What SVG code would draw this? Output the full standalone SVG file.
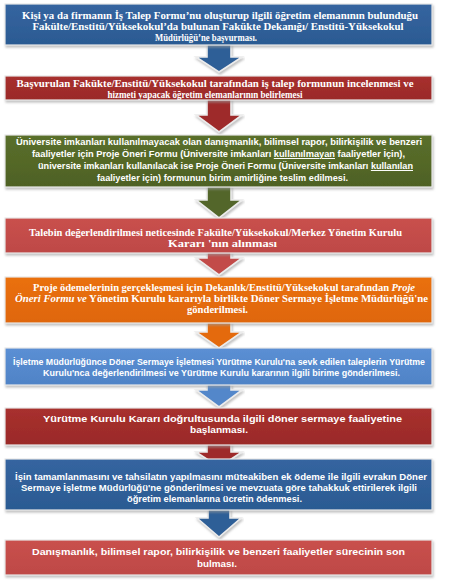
<svg xmlns="http://www.w3.org/2000/svg" width="474" height="582" viewBox="0 0 474 582">
<defs>
<filter id="sh" x="-5%" y="-20%" width="110%" height="150%">
<feDropShadow dx="1" dy="2" stdDeviation="1.2" flood-color="#9a9a9a" flood-opacity="0.6"/>
</filter>
<linearGradient id="gBlue" x1="0" y1="0" x2="0" y2="1"><stop offset="0" stop-color="#3565a0"/><stop offset="1" stop-color="#2b5a92"/></linearGradient>
<linearGradient id="gDred" x1="0" y1="0" x2="0" y2="1"><stop offset="0" stop-color="#a8302e"/><stop offset="1" stop-color="#9a2a28"/></linearGradient>
<linearGradient id="gGreen" x1="0" y1="0" x2="0" y2="1"><stop offset="0" stop-color="#5a6f2b"/><stop offset="1" stop-color="#4e6124"/></linearGradient>
<linearGradient id="gRed" x1="0" y1="0" x2="0" y2="1"><stop offset="0" stop-color="#c9504d"/><stop offset="1" stop-color="#be4946"/></linearGradient>
<linearGradient id="gOrange" x1="0" y1="0" x2="0" y2="1"><stop offset="0" stop-color="#ea7010"/><stop offset="1" stop-color="#df660a"/></linearGradient>
<linearGradient id="gLblue" x1="0" y1="0" x2="0" y2="1"><stop offset="0" stop-color="#5b8fd4"/><stop offset="1" stop-color="#4f83c6"/></linearGradient>
</defs>
<style>
.box{stroke:#e8e8e8;stroke-width:1.2;filter:url(#sh)}
.arr{stroke:#ececec;stroke-width:1.6;stroke-linejoin:miter;filter:url(#sh)}
.tser{font-family:"Liberation Serif","Times New Roman",serif;font-weight:bold;font-size:9.8px;fill:#fff;text-anchor:middle}
.tsan{font-family:"Liberation Sans",Arial,sans-serif;font-weight:bold;font-size:9.8px;fill:#fff;text-anchor:middle}
.u{text-decoration:underline}
.i{font-style:italic}
</style>

<g id="connectors">
<path class="arr" fill="#2f5e97" d="M207,44 H231 V57 H242 L219,72 L196,57 H207 Z"/>
<path class="arr" fill="#9e2c2a" d="M207,99 H231 V115 H242 L219,132 L196,115 H207 Z"/>
<path class="arr" fill="#52662a" d="M207,186 H231 V200 H242 L219,218 L196,200 H207 Z"/>
<path class="arr" fill="#c24b48" d="M207,252 H231 V258 H242 L219,275 L196,258 H207 Z"/>
<path class="arr" fill="#e46a0c" d="M207,322 H231 V332 H242 L219,348 L196,332 H207 Z"/>
<path class="arr" fill="#5287ca" d="M207,384 H231 V390 H242 L219,407 L196,390 H207 Z"/>
<path class="arr" fill="#9e2c2a" d="M207,444 H231 V452 H242 L219,467 L196,452 H207 Z"/>
<path class="arr" fill="#2f5e97" d="M208,509 H230 V518 H241 L219,537 L197,518 H208 Z"/>
</g>

<g id="node1">
<rect class="box" x="5" y="4" width="427" height="41" fill="url(#gBlue)"/>
<text class="tser" x="220" y="19" textLength="396" lengthAdjust="spacingAndGlyphs">Kişi ya da firmanın İş Talep Formu’nu oluşturup ilgili öğretim elemanının bulunduğu</text>
<text class="tser" x="218" y="30" textLength="371" lengthAdjust="spacingAndGlyphs">Fakülte/Enstitü/Yüksekokul’da bulunan Fakükte Dekanığı/ Enstitü-Yüksekokul</text>
<text class="tser" x="206" y="41" textLength="102" lengthAdjust="spacingAndGlyphs">Müdürlüğü’ne başvurması.</text>
</g>

<g id="node2">
<rect class="box" x="5" y="76" width="427" height="24" fill="url(#gDred)"/>
<text class="tser" x="215" y="87" textLength="397" lengthAdjust="spacingAndGlyphs">Başvurulan Fakükte/Enstitü/Yüksekokul tarafından iş talep formunun incelenmesi ve</text>
<text class="tser" x="205" y="97.5" textLength="195" lengthAdjust="spacingAndGlyphs">hizmeti  yapacak öğretim elemanlarının belirlemesi</text>
</g>

<g id="node3">
<rect class="box" x="5" y="135" width="427" height="52" fill="url(#gGreen)"/>
<text class="tsan" x="219" y="145" textLength="406" lengthAdjust="spacingAndGlyphs">Üniversite imkanları kullanılmayacak olan danışmanlık, bilimsel rapor, bilirkişilik ve benzeri</text>
<text class="tsan" x="218.5" y="157" textLength="373" lengthAdjust="spacingAndGlyphs">faaliyetler için Proje Öneri Formu (Üniversite imkanları <tspan class="u">kullanılmayan</tspan> faaliyetler İçin),</text>
<text class="tsan" x="225.5" y="169" textLength="375" lengthAdjust="spacingAndGlyphs">üniversite imkanları kullanılacak  ise Proje Öneri Formu (Üniversite imkanları <tspan class="u">kullanılan</tspan></text>
<text class="tsan" x="222.5" y="181" textLength="251" lengthAdjust="spacingAndGlyphs">faaliyetler için) formunun birim amirliğine teslim edilmesi.</text>
</g>

<g id="node4">
<rect class="box" x="5" y="218" width="427" height="35" fill="url(#gRed)"/>
<text class="tser" x="215.5" y="236" textLength="373" lengthAdjust="spacingAndGlyphs">Talebin değerlendirilmesi neticesinde Fakülte/Yüksekokul/Merkez Yönetim Kurulu</text>
<text class="tser" x="222.5" y="247" textLength="109" lengthAdjust="spacingAndGlyphs">Kararı 'nın alınması</text>
</g>

<g id="node5">
<rect class="box" x="5" y="277" width="427" height="46" fill="url(#gOrange)"/>
<text class="tser" x="224" y="291" textLength="382" lengthAdjust="spacingAndGlyphs">Proje ödemelerinin gerçekleşmesi için Dekanlık/Enstitü/Yüksekokul  tarafından <tspan class="i">Proje</tspan></text>
<text class="tser" x="221.5" y="302" textLength="413" lengthAdjust="spacingAndGlyphs"><tspan class="i">Öneri Formu ve</tspan> Yönetim Kurulu kararıyla birlikte Döner Sermaye İşletme Müdürlüğü'ne</text>
<text class="tser" x="217.5" y="313" textLength="61" lengthAdjust="spacingAndGlyphs">gönderilmesi.</text>
</g>

<g id="node6">
<rect class="box" x="5" y="348" width="427" height="37" fill="url(#gLblue)"/>
<text class="tsan" x="219" y="365" font-size="8.6" textLength="412" lengthAdjust="spacingAndGlyphs">İşletme Müdürlüğünce  Döner Sermaye İşletmesi Yürütme Kurulu'na  sevk edilen taleplerin Yürütme</text>
<text class="tsan" x="221.5" y="375.5" font-size="8.6" textLength="357" lengthAdjust="spacingAndGlyphs">Kurulu'nca  değerlendirilmesi ve Yürütme Kurulu kararının ilgili birime gönderilmesi.</text>
</g>

<g id="node7">
<rect class="box" x="5" y="408" width="427" height="37" fill="url(#gDred)"/>
<text class="tsan" x="222.5" y="421.5" font-size="10" textLength="359" lengthAdjust="spacingAndGlyphs">Yürütme  Kurulu Kararı doğrultusunda  ilgili döner sermaye faaliyetine</text>
<text class="tsan" x="219" y="433" font-size="10" textLength="58" lengthAdjust="spacingAndGlyphs">başlanması.</text>
</g>

<g id="node8">
<rect class="box" x="5" y="459" width="427" height="51" fill="url(#gBlue)"/>
<text class="tsan" x="221" y="479.5" font-size="9.5" textLength="412" lengthAdjust="spacingAndGlyphs">İşin tamamlanmasını ve tahsilatın yapılmasını müteakiben ek ödeme ile ilgili evrakın Döner</text>
<text class="tsan" x="219" y="490.5" font-size="9.5" textLength="396" lengthAdjust="spacingAndGlyphs">Sermaye İşletme Müdürlüğü'ne gönderilmesi ve mevzuata göre tahakkuk ettirilerek ilgili</text>
<text class="tsan" x="214.5" y="502" font-size="9.5" textLength="175" lengthAdjust="spacingAndGlyphs">öğretim elemanlarına  ücretin ödenmesi.</text>
</g>

<g id="node9">
<rect class="box" x="5" y="540" width="427" height="35" fill="url(#gRed)"/>
<text class="tsan" x="218.5" y="555" font-size="10" textLength="373" lengthAdjust="spacingAndGlyphs">Danışmanlık,  bilimsel rapor, bilirkişilik  ve benzeri faaliyetler sürecinin son</text>
<text class="tsan" x="217" y="566.5" font-size="10" textLength="40" lengthAdjust="spacingAndGlyphs">bulması.</text>
</g>
</svg>
